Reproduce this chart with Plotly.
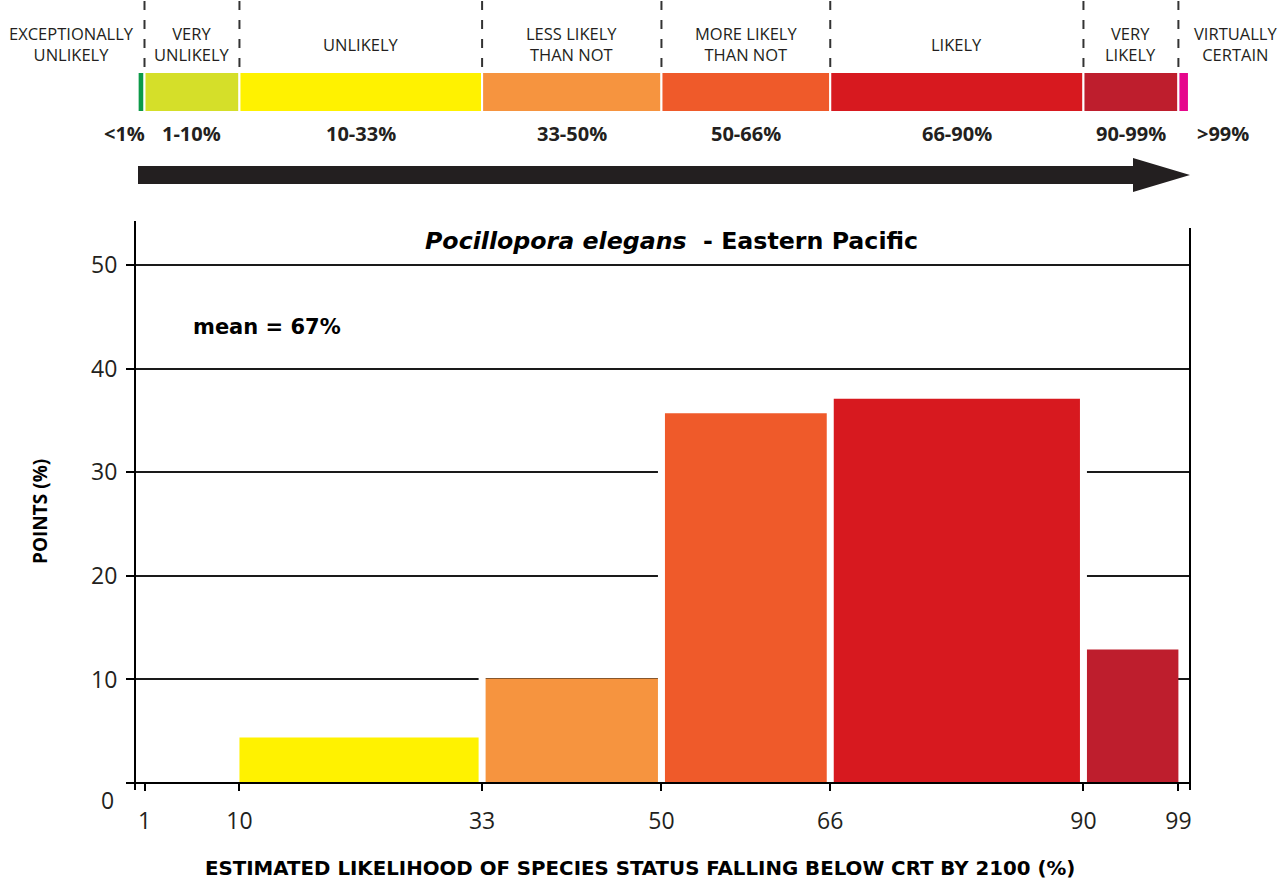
import plotly.graph_objects as go

# ---------------- data ----------------
bin_lo = [0, 1, 10, 33, 50, 66, 90, 99]
bin_hi = [1, 10, 33, 50, 66, 90, 99, 100]
points = [0, 0, 4.4, 10.1, 35.7, 37.1, 12.9, 0]
bin_colors = ["#0c9a48", "#d5df29", "#fff200", "#f6943f",
              "#ef5a2a", "#d7191f", "#be1e2d", "#e6068c"]
scale_names = ["EXCEPTIONALLY<br>UNLIKELY", "VERY<br>UNLIKELY", "UNLIKELY",
               "LESS LIKELY<br>THAN NOT", "MORE LIKELY<br>THAN NOT", "LIKELY",
               "VERY<br>LIKELY", "VIRTUALLY<br>CERTAIN"]
scale_ranges = ["<1%", "1-10%", "10-33%", "33-50%", "50-66%", "66-90%", "90-99%", ">99%"]
x_ticks = [1, 10, 33, 50, 66, 90, 99]
y_ticks = [0, 10, 20, 30, 40, 50]
y_ticktext = ["", "10", "20", "30", "40", "50"]
title_text = "<b><i>Pocillopora elegans</i>&nbsp; - Eastern Pacific</b>"
mean_text = "<b>mean = 67%</b>"
x_title = "<b>ESTIMATED LIKELIHOOD OF SPECIES STATUS FALLING BELOW CRT BY 2100 (%)</b>"
y_title = "<b>POINTS (%)</b>"

# ---------------- geometry ----------------
FW, FH = 1287, 883
L, R, T, B = 135, 1190, 228, 783
PW, PH = R - L, B - T
XMIN, XMAX = 0.1, 100.1
YMAX = 53.6


def pxx(p):
    return (p - L) / PW


def pxy(p):
    return (B - p) / PH


TXT = "#231f20"
FONT = "Open Sans"
BOLDFONT = "DejaVu Sans"

fig = go.Figure()
mids = [(a + b) / 2 for a, b in zip(bin_lo, bin_hi)]
widths = [b - a for a, b in zip(bin_lo, bin_hi)]
fig.add_trace(go.Bar(x=mids, y=points, width=widths,
                     marker=dict(color=bin_colors, line=dict(width=0)),
                     hoverinfo="skip", showlegend=False))

shapes = []
# white separations between adjacent non-empty bars
for i in range(len(points) - 1):
    if points[i] > 0 and points[i + 1] > 0:
        shapes.append(dict(type="line", xref="x", yref="y", x0=bin_hi[i], x1=bin_hi[i],
                           y0=0, y1=max(points[i], points[i + 1]) + 0.15,
                           line=dict(color="white", width=7), layer="above"))
# axis frame lines
shapes.append(dict(type="line", xref="paper", yref="paper", x0=0, x1=1, y0=0, y1=0,
                   line=dict(color="black", width=2), layer="above"))
shapes.append(dict(type="line", xref="paper", yref="paper", x0=0, x1=0,
                   y0=pxy(790), y1=pxy(221), line=dict(color="black", width=2), layer="above"))
shapes.append(dict(type="line", xref="paper", yref="paper", x0=1, x1=1,
                   y0=pxy(790), y1=1, line=dict(color="black", width=2), layer="above"))

# likelihood colour scale
for lo, hi, c in zip(bin_lo, bin_hi, bin_colors):
    shapes.append(dict(type="rect", xref="x", yref="paper", x0=max(lo, 0.35), x1=hi,
                       y0=pxy(112), y1=pxy(72), fillcolor=c,
                       line=dict(color="white", width=2), layer="above"))
for e in bin_hi[:-1]:
    shapes.append(dict(type="line", xref="x", yref="paper", x0=e, x1=e,
                       y0=pxy(1), y1=pxy(71),
                       line=dict(color="#333333", width=2, dash="9px,10px"), layer="above"))

# arrow
ax0, axb, axt = pxx(138), pxx(1133), pxx(1190)
s_top, s_bot = pxy(166), pxy(184)
h_top, h_bot, h_mid = pxy(158), pxy(192), pxy(175)
path = (f"M {ax0},{s_top} L {axb},{s_top} L {axb},{h_top} L {axt},{h_mid} "
        f"L {axb},{h_bot} L {axb},{s_bot} L {ax0},{s_bot} Z")
shapes.append(dict(type="path", xref="paper", yref="paper", path=path,
                   fillcolor="#231f20", line=dict(width=0), layer="above"))

annotations = []
for i, (name, rng) in enumerate(zip(scale_names, scale_ranges)):
    if i == 0:
        xa, xr, xc, xr2 = pxx(71), "paper", pxx(124), "paper"
    elif i == len(scale_names) - 1:
        xa, xr, xc, xr2 = pxx(1235), "paper", pxx(1223), "paper"
    else:
        xa, xr, xc, xr2 = mids[i], "x", mids[i], "x"
    annotations.append(dict(text=name, x=xa, xref=xr, y=pxy(44), yref="paper",
                            showarrow=False, xanchor="center", yanchor="middle",
                            font=dict(family=FONT, size=16.5, color=TXT)))
    annotations.append(dict(text=f"<b>{rng}</b>", x=xc, xref=xr2, y=pxy(133), yref="paper",
                            showarrow=False, xanchor="center", yanchor="middle",
                            font=dict(family=FONT, size=20, color=TXT)))

annotations.append(dict(text=title_text, x=pxx(671), xref="paper", y=pxy(241), yref="paper",
                        showarrow=False, xanchor="center", yanchor="middle",
                        font=dict(family=BOLDFONT, size=23.7, color="black")))
annotations.append(dict(text=mean_text, x=pxx(191), xref="paper", y=pxy(327), yref="paper",
                        showarrow=False, xanchor="left", yanchor="middle",
                        font=dict(family=BOLDFONT, size=21, color="black")))
annotations.append(dict(text=x_title, x=pxx(640), xref="paper", y=pxy(868), yref="paper",
                        showarrow=False, xanchor="center", yanchor="middle",
                        font=dict(family=BOLDFONT, size=19.8, color="black")))
annotations.append(dict(text=y_title, x=pxx(40), xref="paper", y=pxy(512), yref="paper",
                        showarrow=False, xanchor="center", yanchor="middle", textangle=-90,
                        font=dict(family=FONT, size=19, color="black")))
annotations.append(dict(text="0", x=pxx(116), xref="paper", y=pxy(800), yref="paper",
                        showarrow=False, xanchor="right", yanchor="middle",
                        font=dict(family=FONT, size=23, color=TXT)))

fig.update_layout(
    width=FW, height=FH,
    margin=dict(l=L, r=FW - R, t=T, b=FH - B, pad=0),
    paper_bgcolor="white", plot_bgcolor="white",
    showlegend=False,
    shapes=shapes, annotations=annotations,
    xaxis=dict(range=[XMIN, XMAX], tickvals=x_ticks, ticks="outside", ticklen=7,
               tickwidth=2, tickcolor="black", showgrid=False, zeroline=False,
               showline=False, ticklabelstandoff=10,
               tickfont=dict(family=FONT, size=23, color=TXT)),
    yaxis=dict(range=[0, YMAX], tickvals=y_ticks, ticktext=y_ticktext, ticks="outside",
               ticklen=8, tickwidth=2, tickcolor="black", showgrid=True,
               gridcolor="#1a1a1a", gridwidth=2, zeroline=False, showline=False,
               ticklabelstandoff=4,
               tickfont=dict(family=FONT, size=23, color=TXT)),
)

fig.write_html("out.html", config={"displayModeBar": False},
               post_script="document.body.style.margin='0px';document.body.style.overflow='hidden';")
